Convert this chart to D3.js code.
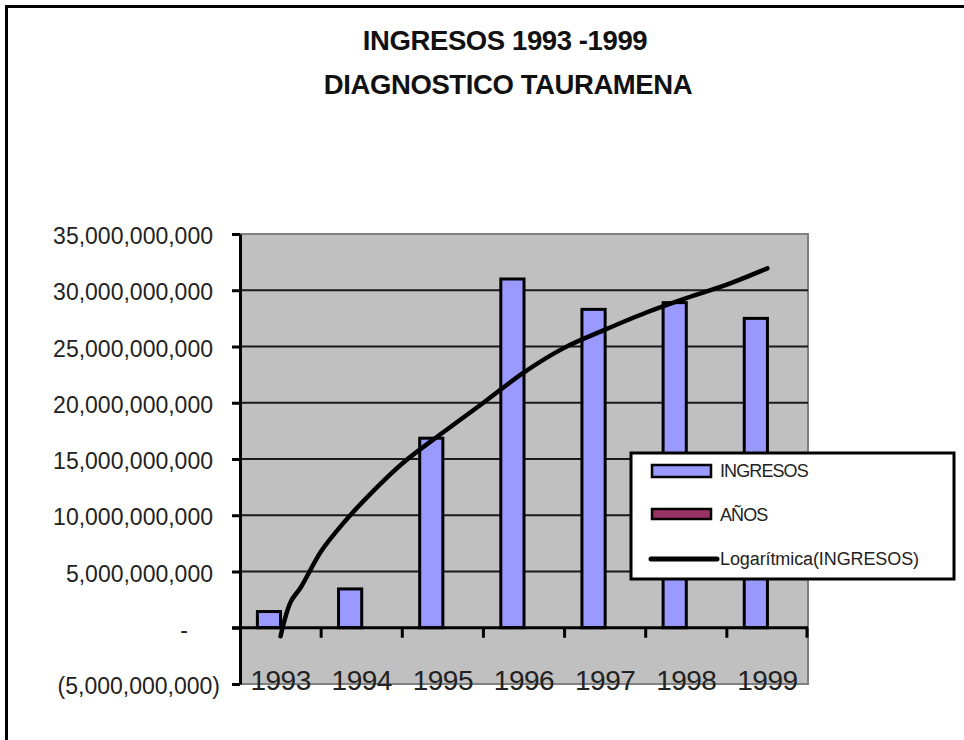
<!DOCTYPE html>
<html>
<head>
<meta charset="utf-8">
<script src="https://cdn.jsdelivr.net/npm/d3@7"></script>
<style>
  body { margin: 0; background: #fff; }
  text { font-family: "Liberation Sans", Arial, sans-serif; }
</style>
</head>
<body>
<svg></svg>
<script>
// data
var years = ["1993", "1994", "1995", "1996", "1997", "1998", "1999"];
var ingresos = [1.44e9, 3.45e9, 16.85e9, 31.0e9, 28.3e9, 28.9e9, 27.5e9];
var anos = [1993, 1994, 1995, 1996, 1997, 1998, 1999];
// logarithmic trend line (Excel) (0 = 1993 centre)
var tendenciaPos = [0, 0.125, 0.25, 0.5, 0.75, 1, 1.5, 2, 2.5, 3, 3.5, 4, 4.5, 5, 5.5, 6];
var tendencia = [-0.75e9, 2.3e9, 3.6e9, 6.8e9, 9.1e9, 11.1e9, 14.6e9, 17.35e9, 20.0e9,
                 22.7e9, 24.9e9, 26.5e9, 28.0e9, 29.3e9, 30.5e9, 31.95e9];
var yTicks = [-5e9, 0, 5e9, 10e9, 15e9, 20e9, 25e9, 30e9, 35e9];
var seriesNames = ["INGRESOS", "AÑOS", "Logarítmica(INGRESOS)"];

var svgWidth = 964, svgHeight = 740;
var plot = { left: 240, right: 808, top: 234, bottom: 684 };

var svg = d3.select("svg")
    .attr("width", svgWidth)
    .attr("height", svgHeight);

// outer frame (top + left only visible)
svg.append("path")
    .attr("d", "M6.5,740V6.5H964")
    .attr("fill", "none")
    .attr("stroke", "#000")
    .attr("stroke-width", 3);

// titles
svg.append("text")
    .attr("x", 505).attr("y", 50)
    .attr("text-anchor", "middle")
    .attr("font-size", 27.5).attr("font-weight", "bold")
    .attr("letter-spacing", -0.4)
    .attr("fill", "#111")
    .text("INGRESOS 1993 -1999");
svg.append("text")
    .attr("x", 508).attr("y", 94)
    .attr("text-anchor", "middle")
    .attr("font-size", 27.5).attr("font-weight", "bold")
    .attr("letter-spacing", -0.4)
    .attr("fill", "#111")
    .text("DIAGNOSTICO TAURAMENA");

var x = d3.scaleBand()
    .domain(years)
    .range([plot.left, plot.right]);

// category index -> pixel (for the trend line)
var xPos = d3.scaleLinear()
    .domain([-0.5, years.length - 0.5])
    .range([plot.left, plot.right]);

// two clustered series with 150% gap width
var xInner = d3.scaleBand()
    .domain(["INGRESOS", "AÑOS"])
    .range([0, x.bandwidth()])
    .paddingInner(0)
    .paddingOuter(0.75);

var y = d3.scaleLinear()
    .domain([-5e9, 35e9])
    .range([plot.bottom, plot.top]);

// plot area
svg.append("rect")
    .attr("x", plot.left).attr("y", plot.top)
    .attr("width", plot.right - plot.left)
    .attr("height", plot.bottom - plot.top)
    .attr("fill", "#c0c0c0")
    .attr("stroke", "#808080")
    .attr("stroke-width", 2);

// gridlines
svg.selectAll("line.grid")
    .data(yTicks.filter(function (d) { return d > 0 && d < 35e9; }))
    .enter()
    .append("line")
    .attr("class", "grid")
    .attr("x1", plot.left).attr("x2", plot.right)
    .attr("y1", function (d) { return y(d); })
    .attr("y2", function (d) { return y(d); })
    .attr("stroke", "#1a1a1a")
    .attr("stroke-width", 2);

// bars
var barData = years.map(function (yr, i) {
    return [
        { year: yr, serie: "INGRESOS", value: ingresos[i], color: "#9999ff" },
        { year: yr, serie: "AÑOS", value: anos[i], color: "#993366" }
    ];
});

svg.selectAll("g.cat")
    .data(barData)
    .enter()
    .append("g")
    .attr("class", "cat")
    .attr("transform", function (d) { return "translate(" + x(d[0].year) + ",0)"; })
    .selectAll("rect")
    .data(function (d) { return d; })
    .enter()
    .append("rect")
    .attr("x", function (d) { return xInner(d.serie); })
    .attr("width", xInner.bandwidth())
    .attr("y", function (d) { return y(Math.max(0, d.value)); })
    .attr("height", function (d) { return Math.abs(y(d.value) - y(0)); })
    .attr("fill", function (d) { return d.color; })
    .attr("stroke", "#000")
    .attr("stroke-width", function (d) { return d.serie === "AÑOS" ? 0 : 3; });

// trend line
var line = d3.line()
    .x(function (d, i) { return xPos(tendenciaPos[i]); })
    .y(function (d) { return y(d); })
    .curve(d3.curveCatmullRom.alpha(0.5));

svg.append("path")
    .datum(tendencia)
    .attr("d", line)
    .attr("fill", "none")
    .attr("stroke", "#000")
    .attr("stroke-width", 4.5)
    .attr("stroke-linecap", "round")
    .attr("stroke-linejoin", "round");

// y axis
var fmt = d3.format(",");
var yAxis = d3.axisLeft(y)
    .tickValues(yTicks)
    .tickSize(8)
    .tickSizeOuter(0)
    .tickPadding(19)
    .tickFormat(function (d) {
        if (d === 0) return "-";
        if (d < 0) return "(" + fmt(-d) + ")";
        return fmt(d);
    });

var gy = svg.append("g")
    .attr("transform", "translate(" + plot.left + ",0)")
    .call(yAxis);
gy.select(".domain").attr("stroke", "#000").attr("stroke-width", 3);
gy.selectAll(".tick line").attr("stroke", "#000").attr("stroke-width", 3);
gy.selectAll(".tick text")
    .attr("font-size", 23)
    .attr("font-family", "'Liberation Sans', Arial, sans-serif")
    .attr("fill", "#222")
    .attr("dy", "0.42em")
    .attr("dx", function (d) { return d < 0 ? 7 : (d === 0 ? -25 : 0); });

// category axis on the zero line
var gx = svg.append("g")
    .attr("transform", "translate(0," + y(0) + ")");
gx.append("line")
    .attr("x1", plot.left - 8).attr("x2", plot.right)
    .attr("stroke", "#000").attr("stroke-width", 3);
gx.selectAll("line.tk")
    .data(years.slice(1).concat(["end"]))
    .enter()
    .append("line")
    .attr("class", "tk")
    .attr("x1", function (d) { return d === "end" ? plot.right - 1 : x(d); })
    .attr("x2", function (d) { return d === "end" ? plot.right - 1 : x(d); })
    .attr("y1", 0).attr("y2", 10)
    .attr("stroke", "#000").attr("stroke-width", 3);

var xAxis = d3.axisBottom(x).tickSize(0).tickPadding(42);
var gxl = svg.append("g")
    .attr("transform", "translate(0," + y(0) + ")")
    .call(xAxis);
gxl.select(".domain").remove();
gxl.selectAll(".tick text")
    .attr("font-size", 28)
    .attr("font-family", "'Liberation Sans', Arial, sans-serif")
    .attr("letter-spacing", -0.5)
    .attr("fill", "#222");

// legend
var legend = svg.append("g").attr("transform", "translate(631,453)");
legend.append("rect")
    .attr("width", 323).attr("height", 126)
    .attr("fill", "#fff")
    .attr("stroke", "#000")
    .attr("stroke-width", 3);

var items = legend.selectAll("g.item")
    .data(seriesNames)
    .enter()
    .append("g")
    .attr("class", "item")
    .attr("transform", function (d, i) { return "translate(0," + (18 + i * 44) + ")"; });

items.each(function (d, i) {
    var g = d3.select(this);
    if (i < 2) {
        g.append("rect")
            .attr("x", 21).attr("y", -6)
            .attr("width", 59).attr("height", i === 0 ? 12 : 10)
            .attr("fill", i === 0 ? "#9999ff" : "#993366")
            .attr("stroke", "#000")
            .attr("stroke-width", 2.5);
    } else {
        g.append("line")
            .attr("x1", 20).attr("x2", 86)
            .attr("y1", 0).attr("y2", 0)
            .attr("stroke", "#000")
            .attr("stroke-width", 5)
            .attr("stroke-linecap", "round");
    }
    g.append("text")
        .attr("x", 89).attr("y", 0)
        .attr("dy", "0.36em")
        .attr("font-size", 18)
        .attr("letter-spacing", i < 2 ? -0.9 : -0.1)
        .attr("fill", "#222")
        .text(d);
});
</script>
</body>
</html>
